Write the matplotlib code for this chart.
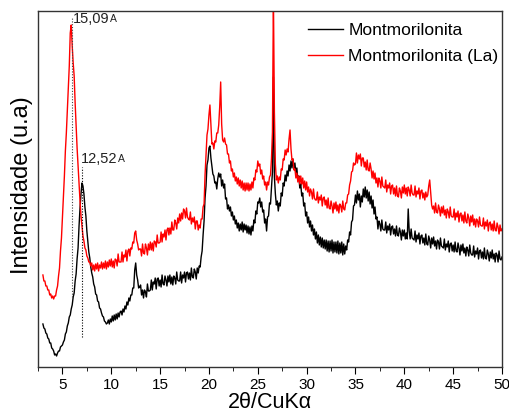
import numpy as np
import matplotlib
matplotlib.use('Agg')
import matplotlib.pyplot as plt

plt.rcParams['font.family'] = ['Liberation Sans', 'DejaVu Sans']

# 2theta grid, step 0.1 deg (3 -> 50)
two_theta = np.round(np.arange(3.0, 50.05, 0.1), 1)

# Montmorilonita (read row by row, one row = 1 degree)
mmt = [
    43, 39, 38, 34, 33, 29, 28, 24, 24, 19,            # 3
    18, 16, 12, 13, 11, 14, 16, 16, 20, 21,            # 4
    22, 25, 27, 33, 35, 41, 44, 50, 52, 58,            # 5
    62, 70, 74, 86, 93, 108, 119, 141, 159, 173,       # 6
    184, 181, 173, 160, 151, 136, 126, 115, 109, 100,  # 7
    94, 90, 83, 80, 73, 72, 66, 65, 59, 58,            # 8
    54, 51, 50, 46, 45, 43, 44, 47, 43, 48,            # 9
    45, 51, 46, 52, 47, 53, 48, 54, 50, 55,            # 10
    56, 52, 58, 55, 61, 58, 65, 62, 69, 66,            # 11
    72, 72, 79, 79, 97, 104, 92, 87, 79, 80,           # 12
    82, 72, 77, 69, 77, 75, 70, 83, 76, 76,            # 13
    77, 87, 77, 85, 83, 89, 78, 88, 89, 81,            # 14
    87, 80, 92, 83, 82, 91, 87, 81, 91, 85,            # 15
    92, 83, 90, 82, 91, 89, 83, 95, 87, 86,            # 16
    86, 95, 84, 92, 89, 95, 85, 94, 95, 88,            # 17
    94, 87, 99, 90, 89, 98, 95, 88, 99, 94,            # 18
    101, 100, 110, 116, 132, 146, 169, 181, 202, 207,  # 19
    219, 221, 209, 201, 193, 191, 184, 185, 178, 188,  # 20
    194, 190, 193, 181, 187, 179, 183, 168, 169, 158,  # 21
    162, 156, 160, 151, 155, 147, 151, 143, 147, 139,  # 22
    144, 136, 143, 137, 145, 135, 143, 137, 142, 134,  # 23
    141, 133, 140, 132, 141, 136, 147, 144, 156, 153,  # 24
    165, 164, 169, 160, 165, 155, 157, 144, 148, 136,  # 25
    150, 151, 164, 163, 179, 195, 290, 190, 173, 162,  # 26
    166, 156, 164, 161, 174, 171, 184, 181, 192, 186,  # 27
    196, 191, 202, 196, 206, 199, 208, 198, 204, 194,  # 28
    199, 187, 191, 179, 183, 171, 174, 161, 164, 151,  # 29
    155, 144, 150, 140, 146, 136, 142, 132, 138, 128,  # 30
    135, 124, 132, 122, 130, 120, 129, 119, 127, 118,  # 31
    127, 116, 126, 115, 126, 116, 127, 114, 125, 115,  # 32
    125, 114, 126, 113, 124, 114, 125, 112, 123, 113,  # 33
    121, 117, 127, 125, 135, 132, 145, 147, 161, 162,  # 34
    172, 164, 176, 167, 173, 160, 171, 165, 178, 170,  # 35
    180, 169, 177, 166, 175, 163, 171, 159, 167, 153,  # 36
    160, 148, 150, 138, 146, 143, 136, 147, 138, 137,  # 37
    137, 145, 134, 141, 137, 143, 132, 140, 141, 133,  # 38
    138, 131, 141, 132, 131, 139, 135, 127, 137, 131,  # 39
    137, 128, 134, 128, 158, 136, 128, 138, 129, 128,  # 40
    127, 136, 125, 132, 128, 134, 123, 131, 132, 124,  # 41
    129, 122, 133, 123, 122, 131, 127, 119, 129, 123,  # 42
    130, 121, 126, 118, 127, 125, 118, 129, 121, 120,  # 43
    119, 128, 117, 123, 120, 126, 115, 123, 124, 116,  # 44
    122, 115, 125, 116, 115, 124, 119, 112, 122, 116,  # 45
    123, 114, 119, 111, 120, 117, 111, 122, 114, 112,  # 46
    112, 121, 110, 116, 113, 119, 108, 116, 117, 109,  # 47
    115, 108, 119, 109, 108, 117, 113, 106, 115, 109,  # 48
    117, 108, 113, 105, 114, 112, 105, 116, 108, 107,  # 49
    110,                                               # 50
]

# Montmorilonita (La)
mmt_la = [
    92, 86, 86, 81, 81, 77, 77, 72, 73, 69,            # 3
    71, 68, 71, 71, 77, 81, 91, 99, 116, 129,          # 4
    149, 171, 191, 216, 234, 256, 277, 301, 334, 342,  # 5
    321, 304, 291, 264, 241, 219, 201, 181, 166, 151,  # 6
    141, 131, 126, 119, 117, 111, 109, 105, 105, 101,  # 7
    104, 97, 102, 96, 103, 98, 104, 96, 102, 99,       # 8
    105, 98, 104, 99, 106, 98, 105, 100, 107, 101,     # 9
    108, 100, 106, 99, 108, 107, 101, 113, 105, 105,   # 10
    105, 115, 105, 112, 110, 117, 106, 116, 118, 111,  # 11
    119, 118, 125, 124, 134, 136, 127, 123, 117, 118,  # 12
    118, 111, 123, 114, 113, 123, 119, 112, 123, 117,  # 13
    125, 117, 124, 116, 126, 125, 120, 132, 124, 124,  # 14
    125, 135, 125, 133, 130, 137, 127, 137, 139, 132,  # 15
    139, 133, 145, 137, 137, 147, 144, 138, 149, 144,  # 16
    153, 146, 154, 148, 158, 156, 149, 159, 150, 148,  # 17
    147, 155, 143, 149, 145, 150, 138, 146, 146, 137,  # 18
    142, 139, 148, 148, 160, 163, 192, 213, 232, 238,  # 19
    252, 262, 242, 223, 224, 218, 226, 225, 234, 234,  # 20
    242, 260, 285, 243, 227, 225, 229, 223, 222, 213,  # 21
    213, 204, 206, 196, 198, 190, 194, 186, 190, 183,  # 22
    189, 181, 187, 179, 186, 177, 184, 176, 184, 177,  # 23
    184, 176, 183, 177, 185, 179, 189, 187, 197, 195,  # 24
    206, 201, 203, 193, 197, 188, 191, 182, 185, 177,  # 25
    185, 182, 190, 192, 208, 235, 370, 255, 203, 187,  # 26
    191, 184, 190, 187, 198, 197, 208, 207, 217, 212,  # 27
    218, 215, 228, 237, 218, 207, 208, 197, 198, 189,  # 28
    194, 185, 191, 183, 191, 183, 189, 179, 186, 177,  # 29
    185, 175, 180, 171, 178, 175, 168, 178, 169, 167,  # 30
    167, 175, 164, 170, 167, 172, 161, 169, 170, 162,  # 31
    167, 159, 169, 159, 158, 166, 161, 154, 164, 158,  # 32
    165, 156, 162, 154, 163, 161, 155, 166, 158, 157,  # 33
    164, 164, 172, 173, 182, 186, 195, 196, 204, 202,  # 34
    203, 214, 204, 212, 208, 213, 201, 209, 209, 200,  # 35
    205, 197, 207, 197, 196, 204, 198, 189, 196, 188,  # 36
    194, 184, 189, 180, 189, 186, 179, 190, 181, 180,  # 37
    179, 187, 175, 182, 179, 184, 173, 181, 182, 173,  # 38
    179, 171, 181, 171, 170, 179, 176, 169, 180, 174,  # 39
    182, 173, 179, 171, 180, 177, 171, 182, 174, 172,  # 40
    172, 181, 170, 176, 173, 179, 168, 176, 177, 169,  # 41
    174, 167, 175, 170, 172, 181, 187, 174, 162, 158,  # 42
    161, 154, 164, 155, 154, 162, 158, 151, 160, 154,  # 43
    161, 152, 157, 149, 158, 155, 149, 160, 151, 150,  # 44
    150, 158, 147, 154, 150, 156, 145, 153, 154, 146,  # 45
    152, 144, 155, 146, 144, 153, 149, 141, 151, 145,  # 46
    152, 142, 148, 140, 148, 146, 140, 150, 142, 141,  # 47
    141, 149, 138, 145, 141, 147, 136, 144, 145, 137,  # 48
    143, 136, 146, 137, 136, 144, 140, 133, 142, 136,  # 49
    138,                                               # 50
]

labels = ['Montmorilonita', 'Montmorilonita (La)']
d_peaks = [(5.95, '15,09'), (7.02, '12,52')]

fig = plt.figure(figsize=(5.09, 4.16), dpi=100)
ax = fig.add_axes([0.0747, 0.1178, 0.9115, 0.8558])

ax.plot(two_theta, mmt, color='black', lw=1.0, label=labels[0])
ax.plot(two_theta, mmt_la, color='red', lw=1.0, label=labels[1])

# marcas dos picos basais
ax.plot([d_peaks[0][0]] * 2, [70, 349], color='#444444', lw=0.8, ls=(0, (1, 1.5)))
ax.plot([d_peaks[1][0]] * 2, [30, 200], color='black', lw=0.8, ls=(0, (1, 1.5)))
for (x, lab), dx, y in zip(d_peaks, [0.15, -0.12], [341, 201]):
    t = ax.text(x + dx, y, lab, fontsize=10.5, va='bottom', ha='left', color='#222222')
    ax.annotate('A', xy=(1, 0.12), xycoords=t, fontsize=7.5, va='bottom', ha='left',
                color='#222222')

ax.set_xlim(3, 50)
ax.set_ylim(0, 356)
ax.set_xticks(np.arange(5, 51, 5))
ax.set_xticks(np.arange(2.5, 50.1, 2.5), minor=True)
ax.set_yticks([])
ax.tick_params(axis='x', which='major', length=5, direction='out', labelsize=11, pad=3)
ax.tick_params(axis='x', which='minor', length=3, direction='out')
for s in ax.spines.values():
    s.set_linewidth(1.0)
    s.set_color('#333333')

ax.set_xlabel('2θ/CuKα', fontsize=15.5, labelpad=0)
ax.set_ylabel('Intensidade (u.a)', fontsize=17)
ax.yaxis.set_label_coords(-0.011, 0.51)

ax.legend(loc='upper right', bbox_to_anchor=(1.0, 0.976), frameon=False, fontsize=12.5,
          handlelength=2.0, labelspacing=0.6, handletextpad=0.3, borderpad=0.2,
          borderaxespad=0)

fig.savefig('out.png', dpi=100)
